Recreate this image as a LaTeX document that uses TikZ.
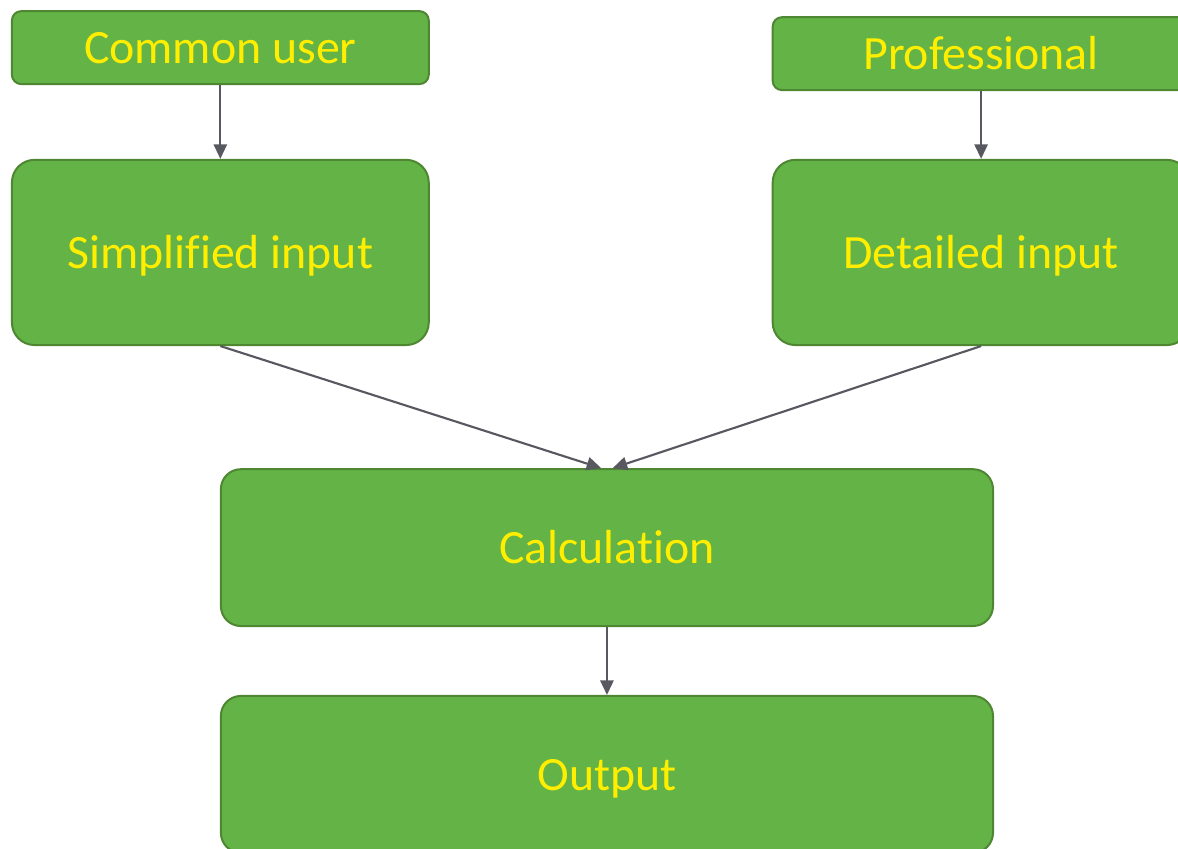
\documentclass[tikz,border=0pt]{standalone}
\usepackage{fontspec}
\setmainfont{Carlito}[Ligatures=NoCommon]
\usepackage{tikz}
\usetikzlibrary{arrows.meta}
\definecolor{boxfill}{RGB}{99,179,70}
\definecolor{boxline}{RGB}{78,134,50}
\definecolor{boxtext}{RGB}{255,238,0}
\definecolor{arrowgray}{RGB}{88,88,96}
\tikzset{
    box/.style={rectangle,draw=boxline,fill=boxfill,line width=1.5pt,
        text=boxtext,font=\fontsize{36}{42}\selectfont,inner sep=0pt,
        text height=24pt,text depth=0pt},
    userbox/.style={box,rounded corners=7pt,minimum width=11.03cm,minimum height=1.93cm},
    inputbox/.style={box,rounded corners=17pt,minimum width=11.03cm,minimum height=4.9cm},
    stagebox/.style={box,rounded corners=15pt,minimum width=20.43cm,minimum height=4.15cm},
    edge/.style={->,> = {Triangle[length=11pt,width=10pt]},draw=arrowgray,line width=1.6pt}
}

\begin{document}
\begin{tikzpicture} [scale=1]
\useasboundingbox (0,0) rectangle (31.17,-22.44);
\node[userbox] (1) at (5.83,-1.26) {Common user};
\node[userbox] (2) at (25.96,-1.42) {Professional};
\node[inputbox] (3) at (5.83,-6.68) {Simplified input};
\node[inputbox] (4) at (25.96,-6.68) {Detailed input};
\node[stagebox] (5) at (16.06,-14.49) {Calculation};
\node[stagebox] (6) at (16.06,-20.49) {Output};

\draw[edge] (1) -- (3);
\draw[edge] (2) -- (4);
\draw[edge] (3.south) -- ([xshift=-0.15cm]5.north);
\draw[edge] (4.south) -- ([xshift=0.15cm]5.north);
\draw[edge] (5) -- (6);

\end{tikzpicture}
\end{document}
